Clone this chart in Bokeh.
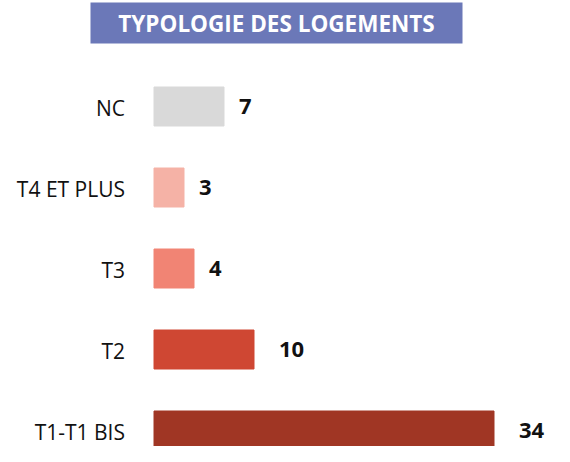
from bokeh.plotting import figure
from bokeh.models import ColumnDataSource, Range1d, BoxAnnotation, Label
from bokeh.core.properties import value
from bokeh.embed import file_html
from bokeh.resources import INLINE

categories = ["NC", "T4 ET PLUS", "T3", "T2", "T1-T1 BIS"]
counts = [7, 3, 4, 10, 34]
colors = ["#D9D9D9", "#F5B2A6", "#F18474", "#CF4733", "#A03624"]
title_text = "TYPOLOGIE DES LOGEMENTS"

n = len(categories)
ypos = [n - 1 - i for i in range(n)]
val_labels = [str(c) for c in counts]
val_offsets = [15 if len(s) == 1 else 25 for s in val_labels]
zeros = [0] * n

src = ColumnDataSource(dict(y=ypos, v=counts, c=colors, cat=categories,
                            lab=val_labels, off=val_offsets, z=zeros))

W, H = 554, 446
PX_X = 10.0
X0 = 153.5
PX_Y = 81.0
TOP_C = 106.0
x_start = -X0 / PX_X
y_top = (n - 1) + TOP_C / PX_Y

p = figure(width=W, height=H, output_backend="svg", toolbar_location=None,
           x_range=Range1d(x_start, x_start + W / PX_X),
           y_range=Range1d(y_top - H / PX_Y, y_top),
           min_border=0, outline_line_color=None)
p.axis.visible = False
p.grid.visible = False
p.background_fill_color = "white"
p.border_fill_color = "white"

p.hbar(y="y", left=0, right="v", height=39 / PX_Y, color="c", source=src)

p.text(x="z", y="y", text="cat", source=src, x_offset=-29, y_offset=1,
       text_align="right", text_baseline="middle",
       text_font=value("Open Sans"), text_font_size="21px", text_color="#111111")
p.text(x="v", y="y", text="lab", source=src, x_offset="off",
       text_align="left", text_baseline="middle",
       text_font=value("Open Sans"), text_font_size="22px",
       text_font_style="bold", text_color="#111111")

box = BoxAnnotation(left=90, right=462, top=H - 2, bottom=H - 43,
                    left_units="screen", right_units="screen",
                    top_units="screen", bottom_units="screen",
                    fill_color="#6B78B8", fill_alpha=1, line_color=None)
p.add_layout(box)
p.add_layout(Label(x=276, y=H - 22.5, x_units="screen", y_units="screen",
                   text=title_text, text_align="center", text_baseline="middle",
                   text_font="Open Sans", text_font_size="22.5px",
                   text_font_style="bold", text_color="white"))

open("out.html", "w").write(file_html(p, INLINE))
